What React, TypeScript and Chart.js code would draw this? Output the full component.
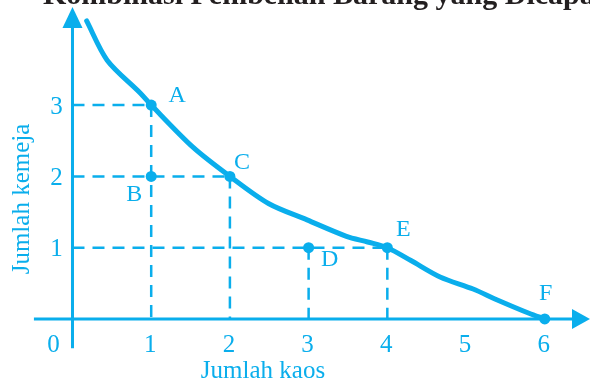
import React, { useEffect, useRef } from 'react';
import { Chart, registerables } from 'chart.js';

Chart.register(...registerables);

// ---------- data ----------
const TITLE = 'Kombinasi Pembelian Barang yang Dicapai';
const X_TITLE = 'Jumlah kaos';
const Y_TITLE = 'Jumlah kemeja';
const xTicks = [1, 2, 3, 4, 5, 6];
const yTicks = [1, 2, 3];
const originLabel = '0';

const curveX = [0.18, 0.44, 0.86, 1.0, 1.53, 2.0, 2.49, 2.98, 3.48, 3.75, 4.0, 4.3, 4.67, 5.09, 5.39, 5.8, 6.0];
const curveY = [4.18, 3.63, 3.17, 3.0, 2.41, 2.0, 1.62, 1.39, 1.16, 1.08, 1.0, 0.82, 0.59, 0.42, 0.27, 0.08, 0.0];

const pointNames = ['A', 'B', 'C', 'D', 'E', 'F'];
const pointX = [1, 1, 2, 3, 4, 6];
const pointY = [3, 2, 2, 1, 1, 0];

// which points get a dashed guide to the y axis (horizontal) / x axis (vertical)
const hGuidePoints = ['A', 'C', 'E'];
const vGuidePoints = ['A', 'C', 'D', 'E'];

// ---------- styles ----------
const CYAN = '#0aaeec';
const TITLE_COLOR = '#231f20';
const SERIF = '"Liberation Serif", "Times New Roman", serif';
const X_MIN = -0.921;
const X_MAX = 6.575;
const Y_MIN = -0.954;
const Y_MAX = 4.474;
const labelOffsets: Record<string, [number, number]> = {
  A: [26, -9],
  B: [-17, 18],
  C: [12, -14],
  D: [21, 12],
  E: [16, -18],
  F: [1, -25],
};

const idx = (n: string) => pointNames.indexOf(n);

const guideDatasets = [
  ...hGuidePoints.map((n) => ({
    type: 'line' as const,
    data: [
      { x: 0, y: pointY[idx(n)] },
      { x: pointX[idx(n)], y: pointY[idx(n)] },
    ],
    borderColor: CYAN,
    borderWidth: 2.5,
    borderDash: [12, 8],
    pointRadius: 0,
    fill: false,
    order: 3,
  })),
  ...vGuidePoints.map((n) => ({
    type: 'line' as const,
    data: [
      { x: pointX[idx(n)], y: pointY[idx(n)] },
      { x: pointX[idx(n)], y: 0 },
    ],
    borderColor: CYAN,
    borderWidth: 2.5,
    borderDash: [12, 8],
    pointRadius: 0,
    fill: false,
    order: 3,
  })),
];

const axesPlugin = {
  id: 'customAxes',
  beforeDatasetsDraw(chart: any) {
    const { ctx } = chart;
    const xs = chart.scales.x;
    const ys = chart.scales.y;
    const x0 = xs.getPixelForValue(0);
    const y0 = ys.getPixelForValue(0);
    ctx.save();
    ctx.strokeStyle = CYAN;
    ctx.fillStyle = CYAN;
    ctx.lineWidth = 3;
    // x axis
    const xStart = xs.getPixelForValue(-0.49);
    const xTip = xs.getPixelForValue(X_MAX);
    ctx.beginPath();
    ctx.moveTo(xStart, y0);
    ctx.lineTo(xTip - 14, y0);
    ctx.stroke();
    ctx.beginPath();
    ctx.moveTo(xTip, y0);
    ctx.lineTo(xTip - 18, y0 - 10);
    ctx.lineTo(xTip - 18, y0 + 10);
    ctx.closePath();
    ctx.fill();
    // y axis
    const yStart = ys.getPixelForValue(-0.41);
    const yTip = ys.getPixelForValue(4.376);
    ctx.beginPath();
    ctx.moveTo(x0, yStart);
    ctx.lineTo(x0, yTip + 16);
    ctx.stroke();
    ctx.beginPath();
    ctx.moveTo(x0, yTip);
    ctx.lineTo(x0 - 10, yTip + 21);
    ctx.lineTo(x0 + 10, yTip + 21);
    ctx.closePath();
    ctx.fill();
    ctx.restore();
  },
  afterDraw(chart: any) {
    const { ctx } = chart;
    const xs = chart.scales.x;
    const ys = chart.scales.y;
    const x0 = xs.getPixelForValue(0);
    const y0 = ys.getPixelForValue(0);
    ctx.save();
    ctx.fillStyle = CYAN;
    // tick labels
    ctx.font = `25px ${SERIF}`;
    ctx.textAlign = 'center';
    ctx.textBaseline = 'middle';
    xTicks.forEach((t) => ctx.fillText(String(t), xs.getPixelForValue(t) - 1, y0 + 26));
    ctx.fillText(originLabel, x0 - 19, y0 + 26);
    yTicks.forEach((t) => ctx.fillText(String(t), x0 - 16, ys.getPixelForValue(t) + 2));
    // axis titles
    ctx.textBaseline = 'alphabetic';
    ctx.fillText(X_TITLE, 263, 378);
    ctx.save();
    ctx.translate(29, 199);
    ctx.rotate(-Math.PI / 2);
    ctx.fillText(Y_TITLE, 0, 0);
    ctx.restore();
    // point labels
    ctx.font = `24px ${SERIF}`;
    ctx.textBaseline = 'middle';
    pointNames.forEach((n, i) => {
      const [dx, dy] = labelOffsets[n];
      ctx.fillText(n, xs.getPixelForValue(pointX[i]) + dx, ys.getPixelForValue(pointY[i]) + dy);
    });
    // title (cut by the top edge)
    ctx.fillStyle = TITLE_COLOR;
    ctx.font = `bold 30px ${SERIF}`;
    ctx.textAlign = 'left';
    ctx.textBaseline = 'alphabetic';
    ctx.fillText(TITLE, 43, 4);
    ctx.restore();
  },
};

export default function App() {
  const ref = useRef<HTMLCanvasElement | null>(null);
  useEffect(() => {
    if (!ref.current) return;
    const chart = new Chart(ref.current, {
      type: 'scatter',
      data: {
        datasets: [
          {
            type: 'line' as const,
            data: curveX.map((x, i) => ({ x, y: curveY[i] })),
            borderColor: CYAN,
            borderWidth: 5,
            pointRadius: 0,
            tension: 0.3,
            fill: false,
            borderCapStyle: 'round',
            order: 2,
          } as any,
          ...guideDatasets,
          {
            data: pointX.map((x, i) => ({ x, y: pointY[i] })),
            backgroundColor: CYAN,
            borderColor: CYAN,
            borderWidth: 0,
            pointRadius: 5.5,
            showLine: false,
            order: 1,
          },
        ] as any,
      },
      options: {
        animation: false,
        responsive: false,
        maintainAspectRatio: false,
        layout: { padding: 0, autoPadding: false },
        plugins: {
          legend: { display: false },
          title: { display: false },
          tooltip: { enabled: false },
        },
        scales: {
          x: { type: 'linear', min: X_MIN, max: X_MAX, display: false },
          y: { type: 'linear', min: Y_MIN, max: Y_MAX, display: false },
        },
      },
      plugins: [axesPlugin],
    });
    return () => chart.destroy();
  }, []);
  return (
    <div style={{ position: 'fixed', left: 0, top: 0, width: 590, height: 387, background: '#fff' }}>
      <canvas ref={ref} width={590} height={387} style={{ display: 'block' }} />
    </div>
  );
}
